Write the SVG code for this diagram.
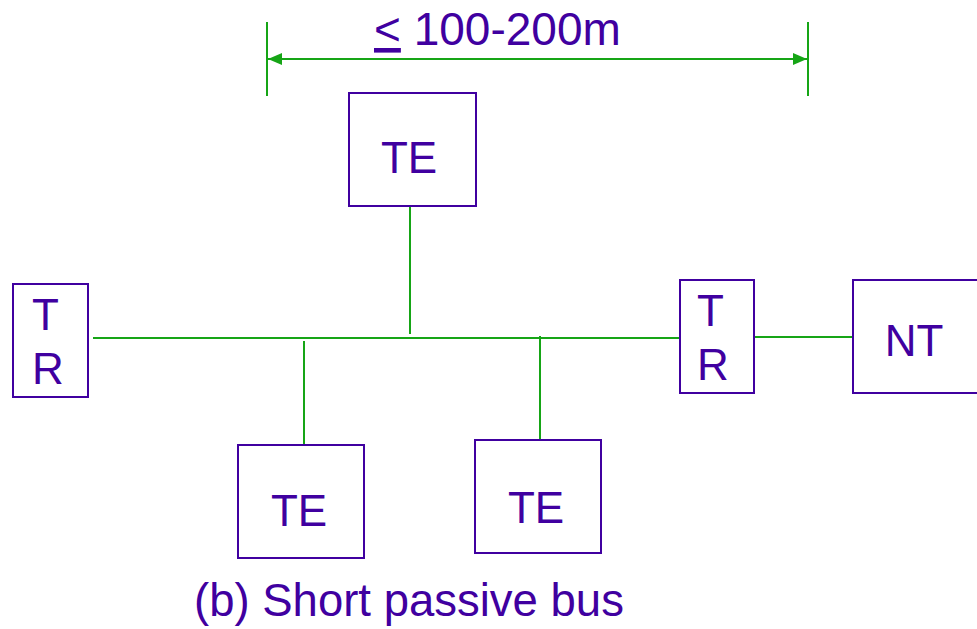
<svg xmlns="http://www.w3.org/2000/svg" width="977" height="629" viewBox="0 0 977 629">
<defs>
<style>
.box{fill:#fff;stroke:#4000a0;stroke-width:2}
.lbl{font-family:"Liberation Sans",Arial,sans-serif;font-size:44px;fill:#4000a0}
.ln{stroke:#16a516;stroke-width:2;fill:none}
</style>
<marker id="ah" viewBox="0 0 14 12" refX="14" refY="6" markerWidth="14" markerHeight="12" markerUnits="userSpaceOnUse" orient="auto-start-reverse">
<path d="M0,0 L14,6 L0,12 Z" fill="#16a516"/>
</marker>
</defs>
<rect width="977" height="629" fill="#fff"/>
<g id="connectors">
<line class="ln" x1="267" y1="22" x2="267" y2="96"/>
<line class="ln" x1="808" y1="22" x2="808" y2="96"/>
<line class="ln" x1="268" y1="59" x2="807" y2="59" stroke-width="3" marker-start="url(#ah)" marker-end="url(#ah)"/>
<line class="ln" x1="93" y1="338" x2="680" y2="338"/>
<line class="ln" x1="754" y1="337" x2="853" y2="337"/>
<line class="ln" x1="410" y1="206" x2="410" y2="334"/>
<line class="ln" x1="304" y1="341" x2="304" y2="445"/>
<line class="ln" x1="540" y1="336" x2="540" y2="440"/>
</g>
<g id="dimension-label">
<text class="lbl" x="374" y="45" style="font-size:46px"><tspan text-decoration="underline">&lt;</tspan> 100-200m</text>
</g>
<g id="te-top">
<rect class="box" x="349" y="93" width="127" height="113"/>
<text class="lbl" x="409" y="173" text-anchor="middle">TE</text>
</g>
<g id="tr-left">
<rect class="box" x="13" y="284" width="75" height="113"/>
<text class="lbl" x="32" y="330">T</text>
<text class="lbl" x="32" y="384">R</text>
</g>
<g id="tr-right">
<rect class="box" x="680" y="280" width="74" height="113"/>
<text class="lbl" x="697" y="326">T</text>
<text class="lbl" x="697" y="380">R</text>
</g>
<g id="nt">
<rect class="box" x="853" y="280" width="130" height="113"/>
<text class="lbl" x="914" y="356" text-anchor="middle">NT</text>
</g>
<g id="te-bottom-left">
<rect class="box" x="238" y="445" width="126" height="113"/>
<text class="lbl" x="299" y="526" text-anchor="middle">TE</text>
</g>
<g id="te-bottom-right">
<rect class="box" x="475" y="440" width="126" height="113"/>
<text class="lbl" x="536" y="523" text-anchor="middle">TE</text>
</g>
<g id="caption">
<text class="lbl" x="194" y="616" style="font-size:45.5px">(b) Short passive bus</text>
</g>
</svg>
